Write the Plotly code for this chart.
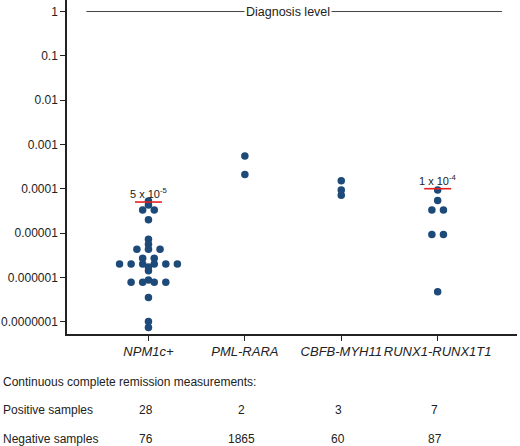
import plotly.graph_objects as go
from collections import Counter
import math

categories = ["NPM1c+", "PML-RARA", "CBFB-MYH11", "RUNX1-RUNX1T1"]

npm1_values = [5.3e-5, 4.3e-5, 3.3e-5, 3.3e-5, 2.0e-5,
               7.2e-6, 5.6e-6, 4.3e-6, 4.3e-6, 4.3e-6,
               2.7e-6, 2.7e-6,
               2.0e-6, 2.0e-6, 2.0e-6, 2.0e-6, 2.0e-6, 2.0e-6,
               1.7e-6, 1.4e-6, 8.7e-7,
               7.7e-7, 7.7e-7, 7.7e-7, 7.7e-7,
               3.5e-7, 1.0e-7, 7.4e-8]
pml_values = [5.5e-4, 2.1e-4]
cbfb_values = [1.52e-4, 9.4e-5, 7.1e-5]
runx1_values = [9.4e-5, 5.4e-5, 3.3e-5, 3.3e-5, 9.3e-6, 9.3e-6, 4.7e-7]

series = [npm1_values, pml_values, cbfb_values, runx1_values]

threshold_cats = [0, 3]
threshold_values = [5e-5, 1e-4]
threshold_labels = ["5 x 10<sup>-5</sup>", "1 x 10<sup>-4</sup>"]

ytick_vals = [1, 0.1, 0.01, 0.001, 0.0001, 0.00001, 0.000001, 0.0000001]
ytick_text = ["1", "0.1", "0.01", "0.001", "0.0001", "0.00001", "0.000001", "0.0000001"]

table_title = "Continuous complete remission measurements:"
positive_samples = [28, 2, 3, 7]
negative_samples = [76, 1865, 60, 87]

FONT = "Liberation Sans, Arial, sans-serif"
DOT = "#1d4a78"


def swarm(vals, dx=0.12):
    counts = Counter(vals)
    seen = {}
    offs = []
    for v in vals:
        k = seen.get(v, 0)
        seen[v] = k + 1
        offs.append((k - (counts[v] - 1) / 2) * dx)
    return offs


xs, ys = [], []
for i, vals in enumerate(series):
    for o, v in zip(swarm(vals), vals):
        xs.append(i + o)
        ys.append(v)

fig = go.Figure()

# diagnosis level line
fig.add_trace(go.Scatter(x=[-0.644, 3.667], y=[1, 1], mode="lines",
                         line=dict(color="#444", width=1), hoverinfo="skip",
                         showlegend=False))

fig.add_trace(go.Scatter(x=xs, y=ys, mode="markers",
                         marker=dict(size=7.5, color=DOT),
                         showlegend=False))

for c, tv, tl in zip(threshold_cats, threshold_values, threshold_labels):
    fig.add_trace(go.Scatter(x=[c - 0.14, c + 0.14], y=[tv, tv], mode="lines",
                             line=dict(color="#e62020", width=1.6),
                             hoverinfo="skip", showlegend=False))
    fig.add_annotation(x=c, y=math.log10(tv), text=tl, showarrow=False,
                       yanchor="bottom", yshift=0,
                       font=dict(family=FONT, size=11, color="#222"))

fig.add_annotation(x=1.451, y=0, text="Diagnosis level", showarrow=False,
                   bgcolor="white", borderpad=1,
                   font=dict(family=FONT, size=12.5, color="#222"))

# table
TXT = dict(family=FONT, size=12, color="#222")
fig.add_annotation(xref="paper", yref="paper", x=-0.147, y=-0.1437,
                   text=table_title, showarrow=False, xanchor="left",
                   yanchor="middle", font=TXT)
fig.add_annotation(xref="paper", yref="paper", x=-0.147, y=-0.2275,
                   text="Positive samples", showarrow=False, xanchor="left",
                   yanchor="middle", font=TXT)
fig.add_annotation(xref="paper", yref="paper", x=-0.147, y=-0.3143,
                   text="Negative samples", showarrow=False, xanchor="left",
                   yanchor="middle", font=TXT)
for i in range(len(categories)):
    fig.add_annotation(xref="x", yref="paper", x=i - 0.03, y=-0.2275,
                       text=str(positive_samples[i]), showarrow=False,
                       yanchor="middle", font=TXT)
    fig.add_annotation(xref="x", yref="paper", x=i - 0.03, y=-0.3143,
                       text=str(negative_samples[i]), showarrow=False,
                       yanchor="middle", font=TXT)

fig.update_layout(
    width=520, height=446,
    margin=dict(l=67, r=3, t=0, b=112),
    plot_bgcolor="white", paper_bgcolor="white",
    font=dict(family=FONT, color="#222"),
)
fig.update_xaxes(range=[-0.845, 3.823], tickvals=list(range(len(categories))),
                 ticktext=["<i>%s</i>" % c for c in categories],
                 tickangle=0,
                 tickfont=dict(family=FONT, size=13, color="#222"),
                 ticks="outside", ticklen=5, tickcolor="#222",
                 showline=True, linecolor="#222", linewidth=1.5,
                 showgrid=False, zeroline=False)
fig.update_yaxes(type="log", range=[-7.28, 0.26], tickvals=ytick_vals,
                 ticktext=ytick_text,
                 tickfont=dict(family=FONT, size=12, color="#222"),
                 ticks="outside", ticklen=5, tickcolor="#222",
                 showline=True, linecolor="#222", linewidth=1.5,
                 showgrid=False, zeroline=False)

fig.write_html("out.html", config={"displayModeBar": False},
               post_script="document.body.style.margin='0';document.body.style.overflow='hidden';")
